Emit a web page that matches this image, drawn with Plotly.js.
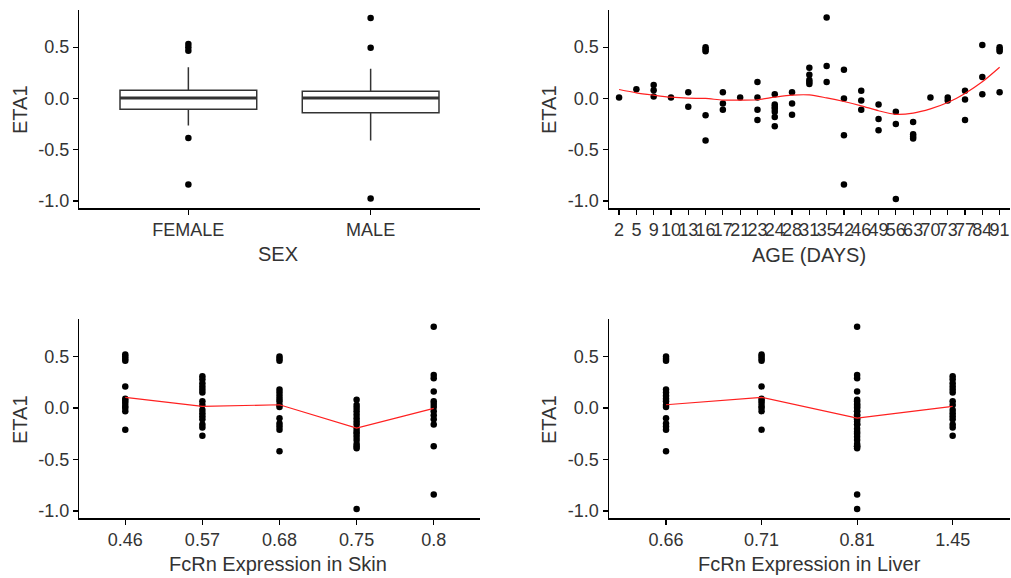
<!DOCTYPE html>
<html>
<head>
<meta charset="utf-8">
<script src="https://cdn.plot.ly/plotly-3.0.1.min.js"></script>
<style>
  html, body { margin: 0; padding: 0; background: #ffffff; }
  #chart { width: 1011px; height: 578px; }
</style>
</head>
<body>
<div id="chart"></div>
<script>
// ---- ETA1 by sex (box summaries) ----
const sexLevels = ['FEMALE', 'MALE'];
const boxQ1 = [-0.105, -0.14];
const boxMedian = [0.005, 0.005];
const boxQ3 = [0.08, 0.07];
const boxLower = [-0.265, -0.41];
const boxUpper = [0.305, 0.29];
const femaleOutliers = [0.53, 0.50, 0.465, -0.385, -0.84];
const maleOutliers = [0.785, 0.495, -0.975];

// ---- ETA1 by age (days) ----
const ageLevels = ['2', '5', '9', '10', '13', '16', '17', '21', '23', '24', '28', '31',
                   '35', '42', '46', '49', '56', '63', '70', '73', '77', '84', '91'];
const etaByAge = [
  [0.01],
  [0.09],
  [0.13, 0.08, 0.02],
  [0.01],
  [0.06, -0.08],
  [0.50, 0.48, 0.46, -0.165, -0.41],
  [0.06, -0.05, -0.11],
  [0.01],
  [0.16, 0.01, -0.11, -0.21],
  [0.04, -0.06, -0.08, -0.10, -0.13, -0.18, -0.27],
  [0.06, -0.05, -0.16],
  [0.30, 0.23, 0.18, 0.16, 0.14],
  [0.79, 0.315, 0.16],
  [0.28, 0.0, -0.36, -0.84],
  [0.075, -0.02, -0.11],
  [-0.06, -0.20, -0.31],
  [-0.13, -0.25, -0.98],
  [-0.23, -0.35, -0.37, -0.39],
  [0.01],
  [0.01, -0.02],
  [0.075, -0.01, -0.21],
  [0.52, 0.21, 0.04],
  [0.50, 0.48, 0.46, 0.06]
];
const ageSmooth = [0.087, 0.055, 0.032, 0.012, 0.002, 0.0, -0.016, -0.016, -0.013, 0.012, 0.032, 0.034,
                   0.005, -0.03, -0.072, -0.12, -0.155, -0.143, -0.102, -0.04, 0.049, 0.162, 0.304];

// ---- ETA1 by FcRn expression in skin ----
const skinLevels = ['0.46', '0.57', '0.68', '0.75', '0.8'];
const etaBySkin = [
  [0.52, 0.50, 0.48, 0.46, 0.21, 0.09, 0.07, 0.05, 0.02, 0.0, -0.03, -0.21],
  [0.31, 0.28, 0.24, 0.21, 0.18, 0.15, 0.065, 0.03, -0.02, -0.05, -0.08, -0.11, -0.16, -0.19, -0.27],
  [0.50, 0.48, 0.46, 0.18, 0.15, 0.12, 0.09, 0.065, 0.03, 0.01, -0.10, -0.15, -0.18, -0.21, -0.42],
  [0.08, 0.03, 0.0, -0.03, -0.065, -0.10, -0.13, -0.16, -0.20, -0.23, -0.25, -0.28, -0.31, -0.35, -0.37, -0.39, -0.98],
  [0.79, 0.32, 0.29, 0.16, 0.065, 0.04, 0.01, -0.03, -0.07, -0.11, -0.16, -0.37, -0.84]
];
const skinSmooth = [0.104, 0.016, 0.032, -0.195, -0.003];

// ---- ETA1 by FcRn expression in liver ----
const liverLevels = ['0.66', '0.71', '0.81', '1.45'];
const etaByLiver = [
  [0.50, 0.48, 0.46, 0.18, 0.15, 0.12, 0.09, 0.065, 0.03, 0.01, -0.10, -0.15, -0.18, -0.21, -0.42],
  [0.52, 0.50, 0.48, 0.46, 0.21, 0.09, 0.07, 0.05, 0.02, 0.0, -0.03, -0.21],
  [0.79, 0.32, 0.29, 0.16, 0.08, 0.065, 0.04, 0.03, 0.01, 0.0, -0.03, -0.03, -0.065, -0.07, -0.10, -0.11,
   -0.13, -0.16, -0.16, -0.20, -0.23, -0.25, -0.28, -0.31, -0.35, -0.37, -0.37, -0.39, -0.84, -0.98],
  [0.31, 0.28, 0.24, 0.21, 0.18, 0.15, 0.065, 0.03, -0.02, -0.05, -0.08, -0.11, -0.16, -0.19, -0.27]
];
const liverSmooth = [0.032, 0.104, -0.097, 0.016];

const etaTickVals = [-1.0, -0.5, 0.0, 0.5];
const etaTickText = ['-1.0', '-0.5', '0.0', '0.5'];

// ---- styling ----
const FONT = 'Liberation Sans, Arial, Helvetica, sans-serif';
const TEXT_COL = '#333333';
const BOX_COL = '#333333';
const SMOOTH_COL = '#ff2020';
const BOX_WIDTH = 0.75;
const marker = { color: '#000000', size: 6.5, symbol: 'circle' };

// flatten grouped values into x/y pairs
function flatten(levels, groups) {
  const xs = [], ys = [];
  groups.forEach((vals, i) => vals.forEach(v => { xs.push(levels[i]); ys.push(v); }));
  return { x: xs, y: ys };
}

const traces = [];

// Panel 1: box plots by sex
traces.push({
  type: 'box', xaxis: 'x', yaxis: 'y',
  x: sexLevels.map((_, i) => i),
  q1: boxQ1, median: boxMedian, q3: boxQ3,
  lowerfence: boxLower, upperfence: boxUpper,
  width: BOX_WIDTH, whiskerwidth: 0,
  fillcolor: '#ffffff',
  line: { color: BOX_COL, width: 1.5 },
  boxpoints: false, hoverinfo: 'skip', showlegend: false
});
// heavier median bar
const medX = [], medY = [];
boxMedian.forEach((m, i) => { medX.push(i - BOX_WIDTH / 2, i + BOX_WIDTH / 2, null); medY.push(m, m, null); });
traces.push({
  type: 'scatter', mode: 'lines', xaxis: 'x', yaxis: 'y',
  x: medX, y: medY, line: { color: BOX_COL, width: 3 },
  hoverinfo: 'skip', showlegend: false
});
traces.push({
  type: 'scatter', mode: 'markers', xaxis: 'x', yaxis: 'y',
  x: femaleOutliers.map(() => 0).concat(maleOutliers.map(() => 1)),
  y: femaleOutliers.concat(maleOutliers),
  marker: marker, showlegend: false
});

// Panel 2: age
const agePts = flatten(ageLevels, etaByAge);
traces.push({
  type: 'scatter', mode: 'markers', xaxis: 'x2', yaxis: 'y2',
  x: agePts.x, y: agePts.y, marker: marker, showlegend: false
});
traces.push({
  type: 'scatter', mode: 'lines', xaxis: 'x2', yaxis: 'y2',
  x: ageLevels, y: ageSmooth,
  line: { color: SMOOTH_COL, width: 1.2, shape: 'spline', smoothing: 0.8 }, showlegend: false
});

// Panel 3: skin
const skinPts = flatten(skinLevels, etaBySkin);
traces.push({
  type: 'scatter', mode: 'markers', xaxis: 'x3', yaxis: 'y3',
  x: skinPts.x, y: skinPts.y, marker: marker, showlegend: false
});
traces.push({
  type: 'scatter', mode: 'lines', xaxis: 'x3', yaxis: 'y3',
  x: skinLevels, y: skinSmooth,
  line: { color: SMOOTH_COL, width: 1.2 }, showlegend: false
});

// Panel 4: liver
const liverPts = flatten(liverLevels, etaByLiver);
traces.push({
  type: 'scatter', mode: 'markers', xaxis: 'x4', yaxis: 'y4',
  x: liverPts.x, y: liverPts.y, marker: marker, showlegend: false
});
traces.push({
  type: 'scatter', mode: 'lines', xaxis: 'x4', yaxis: 'y4',
  x: liverLevels, y: liverSmooth,
  line: { color: SMOOTH_COL, width: 1.2 }, showlegend: false
});

// ---- layout ----
const W = 1011, H = 578;
const colL = [79 / W, 480 / W];
const colR = [608.7 / W, 1010 / W];
const rowT = [(H - 208.3) / H, (H - 10) / H];
const rowB = [(H - 518.3) / H, (H - 319.3) / H];

function xAxis(domain, anchor, extra) {
  return Object.assign({
    domain: domain, anchor: anchor,
    showline: true, linecolor: '#000000', linewidth: 1.2,
    ticks: 'outside', ticklen: 5, tickwidth: 1.2, tickcolor: '#000000',
    showgrid: false, zeroline: false, tickangle: 0,
    tickfont: { family: FONT, size: 18, color: TEXT_COL },
    fixedrange: true
  }, extra);
}
function yAxis(domain, anchor) {
  return {
    domain: domain, anchor: anchor,
    range: [-1.071, 0.862],
    showline: true, linecolor: '#000000', linewidth: 1.2,
    ticks: 'outside', ticklen: 5, tickwidth: 1.2, tickcolor: '#000000',
    showgrid: false, zeroline: false,
    tickmode: 'array', tickvals: etaTickVals, ticktext: etaTickText,
    tickfont: { family: FONT, size: 18, color: TEXT_COL },
    fixedrange: true
  };
}

function label(text, px, py, angle) {
  return {
    text: text, xref: 'paper', yref: 'paper',
    x: px / W, y: 1 - py / H, xanchor: 'center', yanchor: 'middle',
    showarrow: false, textangle: angle || 0,
    font: { family: FONT, size: 20, color: TEXT_COL }
  };
}

const layout = {
  width: W, height: H,
  margin: { l: 0, r: 0, t: 0, b: 0 },
  paper_bgcolor: '#ffffff', plot_bgcolor: '#ffffff',
  showlegend: false,
  xaxis: xAxis(colL, 'y', {
    type: 'linear', range: [-0.6, 1.6],
    tickmode: 'array', tickvals: sexLevels.map((_, i) => i), ticktext: sexLevels
  }),
  yaxis: yAxis(rowT, 'x'),
  xaxis2: xAxis(colR, 'y2', {
    type: 'category', categoryorder: 'array', categoryarray: ageLevels,
    range: [-0.6, ageLevels.length - 0.4], tickmode: 'linear', tick0: 0, dtick: 1
  }),
  yaxis2: yAxis(rowT, 'x2'),
  xaxis3: xAxis(colL, 'y3', {
    type: 'category', categoryorder: 'array', categoryarray: skinLevels,
    range: [-0.6, skinLevels.length - 0.4]
  }),
  yaxis3: yAxis(rowB, 'x3'),
  xaxis4: xAxis(colR, 'y4', {
    type: 'category', categoryorder: 'array', categoryarray: liverLevels,
    range: [-0.6, liverLevels.length - 0.4]
  }),
  yaxis4: yAxis(rowB, 'x4'),
  annotations: [
    label('ETA1', 20, 110, -90),
    label('SEX', 278, 254),
    label('ETA1', 549, 110, -90),
    label('AGE (DAYS)', 809, 255),
    label('ETA1', 20, 420, -90),
    label('FcRn Expression in Skin', 278, 564),
    label('ETA1', 549, 420, -90),
    label('FcRn Expression in Liver', 809, 564)
  ]
};

Plotly.newPlot('chart', traces, layout, { displayModeBar: false, staticPlot: true });
</script>
</body>
</html>
